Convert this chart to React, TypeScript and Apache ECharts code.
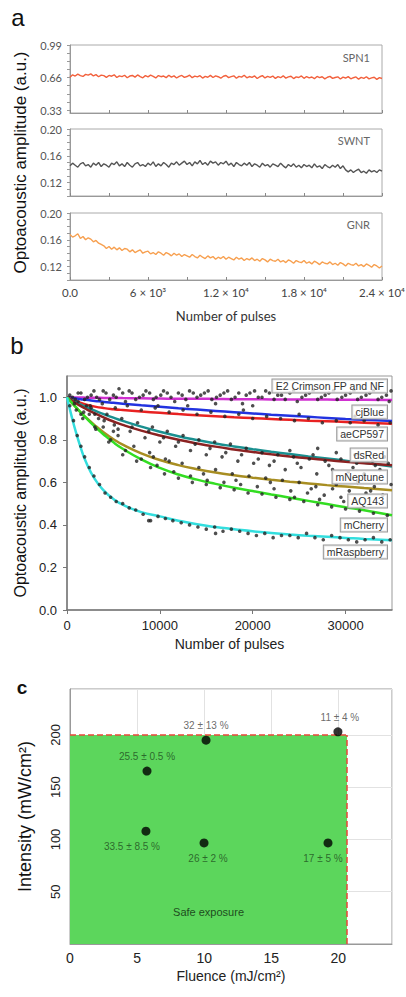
import React, { useEffect, useRef } from "react";
import * as echarts from "echarts";

// ---------- Panel a ----------
const PULSE_STEP = 200;
const SPN1 = [
  0.662, 0.688, 0.675, 0.694, 0.680, 0.671, 0.692, 0.684, 0.697, 0.676,
  0.689, 0.668, 0.684, 0.679, 0.662, 0.681, 0.673, 0.687, 0.660, 0.677,
  0.669, 0.683, 0.658, 0.675, 0.681, 0.664, 0.686, 0.670, 0.657, 0.679,
  0.666, 0.684, 0.672, 0.656, 0.680, 0.668, 0.675, 0.659, 0.683, 0.664,
  0.677, 0.655, 0.672, 0.681, 0.661, 0.670, 0.684, 0.658, 0.674, 0.666,
  0.679, 0.654, 0.671, 0.663, 0.682, 0.660, 0.676, 0.668, 0.653, 0.673,
  0.680, 0.659, 0.669, 0.677, 0.652, 0.672, 0.664, 0.683, 0.657, 0.670,
  0.661, 0.676, 0.650, 0.668, 0.679, 0.656, 0.671, 0.662, 0.675, 0.651,
  0.669, 0.658, 0.677, 0.654, 0.666, 0.673, 0.649, 0.667, 0.660, 0.676,
  0.652, 0.670, 0.657, 0.665, 0.648, 0.671, 0.659, 0.668, 0.646, 0.663,
  0.672, 0.651, 0.660, 0.667, 0.645, 0.664, 0.655, 0.669, 0.647, 0.658,
  0.666, 0.643, 0.661, 0.652, 0.668, 0.646, 0.657, 0.663, 0.641, 0.659, 0.650,
];
const SWNT = [
  0.145, 0.149, 0.146, 0.143, 0.148, 0.150, 0.145, 0.147, 0.143, 0.149,
  0.146, 0.150, 0.144, 0.148, 0.146, 0.143, 0.149, 0.147, 0.151, 0.145,
  0.148, 0.144, 0.150, 0.146, 0.143, 0.148, 0.150, 0.145, 0.147, 0.144,
  0.149, 0.146, 0.151, 0.144, 0.148, 0.145, 0.150, 0.147, 0.143, 0.149,
  0.147, 0.151, 0.146, 0.149, 0.152, 0.147, 0.150, 0.145, 0.151, 0.148,
  0.153, 0.147, 0.150, 0.146, 0.152, 0.149, 0.151, 0.146, 0.150, 0.148,
  0.152, 0.146, 0.149, 0.144, 0.150, 0.147, 0.145, 0.149, 0.146, 0.150,
  0.144, 0.148, 0.146, 0.143, 0.149, 0.145, 0.147, 0.143, 0.148, 0.146,
  0.144, 0.149, 0.145, 0.142, 0.147, 0.144, 0.148, 0.143, 0.146, 0.142,
  0.147, 0.144, 0.146, 0.142, 0.148, 0.143, 0.145, 0.141, 0.147, 0.144,
  0.142, 0.146, 0.143, 0.147, 0.141, 0.145, 0.139, 0.136, 0.139, 0.135,
  0.138, 0.140, 0.135, 0.137, 0.134, 0.139, 0.136, 0.138, 0.135, 0.139, 0.137,
];
const GNR = [
  0.168, 0.164, 0.166, 0.169, 0.162, 0.165, 0.160, 0.163, 0.161, 0.157,
  0.159, 0.155, 0.153, 0.151, 0.147, 0.150, 0.146, 0.149, 0.145, 0.148,
  0.144, 0.147, 0.146, 0.142, 0.145, 0.141, 0.143, 0.145, 0.140, 0.142,
  0.143, 0.139, 0.141, 0.138, 0.142, 0.140, 0.137, 0.141, 0.139, 0.136,
  0.140, 0.137, 0.139, 0.135, 0.138, 0.136, 0.134, 0.138, 0.135, 0.133,
  0.137, 0.134, 0.132, 0.136, 0.133, 0.135, 0.131, 0.134, 0.132, 0.135,
  0.131, 0.134, 0.132, 0.130, 0.134, 0.131, 0.133, 0.129, 0.132, 0.130,
  0.133, 0.129, 0.131, 0.128, 0.132, 0.130, 0.127, 0.131, 0.129, 0.128,
  0.131, 0.127, 0.129, 0.126, 0.130, 0.128, 0.125, 0.129, 0.127, 0.126,
  0.129, 0.125, 0.127, 0.124, 0.128, 0.126, 0.123, 0.127, 0.125, 0.124,
  0.127, 0.123, 0.125, 0.122, 0.126, 0.124, 0.121, 0.125, 0.123, 0.122,
  0.125, 0.121, 0.123, 0.120, 0.124, 0.122, 0.119, 0.123, 0.121, 0.118, 0.121,
];
const A_X_LABEL_VALUES = [0, 6000, 12000, 18000, 24000];
const A_X_LABEL_TEXT = ["0.0", "6 × 10³", "1.2 × 10⁴", "1.8 × 10⁴", "2.4 × 10⁴"];
const SPN1_Y_LABELS = [0.33, 0.66, 0.99];
const SPN1_Y_TICKS = [0.33, 0.4125, 0.495, 0.5775, 0.66, 0.7425, 0.825, 0.9075, 0.99];
const LOW_Y_LABELS = [0.12, 0.16, 0.2];
const A_NAMES = ["SPN1", "SWNT", "GNR"];

// ---------- Panel b ----------
const FIT_X = [0, 500, 1000, 1500, 2000, 3000, 4000, 5000, 6000, 8000, 10000, 12000, 14000, 16000, 18000, 20000, 22000, 24000, 26000, 28000, 30000, 32000, 35000];
const FIT_E2 = [1.0, 1.0, 0.999, 0.999, 0.998, 0.998, 0.997, 0.997, 0.996, 0.995, 0.994, 0.993, 0.993, 0.992, 0.991, 0.991, 0.99, 0.99, 0.989, 0.989, 0.988, 0.988, 0.987];
const FIT_CJBLUE = [1.0, 0.997, 0.994, 0.991, 0.988, 0.983, 0.978, 0.974, 0.97, 0.962, 0.955, 0.948, 0.942, 0.936, 0.93, 0.924, 0.918, 0.913, 0.908, 0.903, 0.898, 0.894, 0.888];
const FIT_AECP = [1.0, 0.99, 0.981, 0.973, 0.966, 0.956, 0.949, 0.944, 0.94, 0.933, 0.927, 0.921, 0.916, 0.911, 0.906, 0.902, 0.898, 0.894, 0.89, 0.887, 0.884, 0.88, 0.876];
const FIT_DSRED = [1.0, 0.988, 0.977, 0.966, 0.956, 0.937, 0.92, 0.904, 0.889, 0.862, 0.838, 0.817, 0.799, 0.783, 0.769, 0.756, 0.744, 0.733, 0.722, 0.712, 0.702, 0.692, 0.675];
const FIT_MNEPTUNE = [1.0, 0.985, 0.971, 0.958, 0.946, 0.924, 0.904, 0.886, 0.87, 0.843, 0.82, 0.8, 0.783, 0.768, 0.755, 0.743, 0.732, 0.722, 0.713, 0.705, 0.697, 0.69, 0.68];
const FIT_AQ143 = [1.0, 0.975, 0.951, 0.928, 0.907, 0.868, 0.833, 0.803, 0.777, 0.736, 0.705, 0.681, 0.662, 0.646, 0.633, 0.622, 0.612, 0.603, 0.595, 0.587, 0.58, 0.573, 0.563];
const FIT_MCHERRY = [1.0, 0.975, 0.951, 0.928, 0.905, 0.862, 0.823, 0.788, 0.758, 0.708, 0.668, 0.637, 0.613, 0.593, 0.575, 0.559, 0.543, 0.528, 0.513, 0.498, 0.483, 0.469, 0.445];
const FIT_MRASP = [1.0, 0.91, 0.83, 0.76, 0.7, 0.615, 0.56, 0.522, 0.495, 0.46, 0.44, 0.42, 0.403, 0.39, 0.38, 0.37, 0.362, 0.355, 0.349, 0.344, 0.339, 0.334, 0.328];
const FIT_NAMES = ["E2 Crimson FP and NF", "cjBlue", "aeCP597", "dsRed", "mNeptune", "AQ143", "mCherry", "mRaspberry"];
const FIT_VALUES = [FIT_E2, FIT_CJBLUE, FIT_AECP, FIT_DSRED, FIT_MNEPTUNE, FIT_AQ143, FIT_MCHERRY, FIT_MRASP];
const FIT_COLORS = ["#d030d0", "#2233e0", "#e82222", "#1a9090", "#8b2222", "#a88e22", "#33dd22", "#33dede"];

const DOTS: number[][] = [
  // around E2 Crimson
  [300, 1.01], [900, 0.99], [1500, 1.02], [2200, 1.0], [2900, 1.03], [3500, 0.99], [4200, 1.02], [5000, 1.01], [5600, 1.04], [6300, 0.98],
  [7000, 1.02], [7800, 1.0], [8500, 1.03], [9300, 0.99], [10100, 1.01], [10800, 1.02], [11600, 0.98], [12400, 1.01], [13200, 1.03], [14000, 1.0],
  [14800, 1.02], [15600, 0.99], [16500, 1.01], [17300, 1.03], [18100, 1.0], [18900, 0.97], [19700, 1.02], [20600, 1.0], [21400, 1.03], [22300, 0.99],
  [23100, 1.01], [24000, 1.02], [24800, 0.98], [25700, 1.01], [26500, 1.03], [27400, 1.0], [28200, 1.02], [29100, 0.99], [30000, 1.01], [30900, 1.03],
  [31700, 1.0], [32600, 1.02], [33500, 0.99], [34400, 1.01], [34900, 1.03], [9800, 0.96], [16000, 0.97], [20000, 0.96],
  [600, 1.0], [1200, 1.02], [1900, 0.99], [2600, 1.01], [3200, 1.0], [3900, 1.03], [4600, 0.99], [5300, 1.0], [6000, 1.02], [6700, 1.03],
  [7400, 0.99], [8200, 1.01], [8900, 1.02], [9600, 1.0], [10400, 1.03], [11200, 1.0], [12000, 1.02], [12800, 0.99], [13600, 1.02], [14400, 1.01],
  [15200, 1.03], [16100, 1.0], [16900, 1.02], [17700, 0.99], [18500, 1.02], [19300, 1.01], [20200, 1.03], [21000, 1.0], [21800, 1.02], [22700, 1.01],
  [23500, 0.99], [24400, 1.03], [25300, 1.0], [26100, 1.02], [27000, 0.99], [27800, 1.01], [28700, 1.03], [29600, 1.0], [30500, 1.02], [31300, 0.99],
  [32200, 1.01], [33000, 1.03], [33900, 1.0], [34700, 0.98],
  // around cjBlue / aeCP597
  [1200, 0.98], [2500, 0.96], [3800, 0.97], [5200, 0.95], [6500, 0.96], [8000, 0.94], [9500, 0.95], [11000, 0.93], [12500, 0.94], [14000, 0.92],
  [15500, 0.93], [17000, 0.91], [18500, 0.92], [20000, 0.9], [21500, 0.91], [23000, 0.9], [24500, 0.89], [26000, 0.9], [27500, 0.88], [29000, 0.89],
  [30500, 0.88], [32000, 0.89], [33500, 0.87], [34800, 0.88], [13000, 0.96], [19000, 0.94], [25000, 0.92], [31000, 0.91],
  // around dsRed / mNeptune
  [800, 0.97], [1800, 0.93], [2600, 0.95], [3400, 0.9], [4300, 0.92], [5100, 0.87], [5900, 0.9], [6800, 0.84], [7600, 0.88], [8400, 0.81],
  [9200, 0.86], [10000, 0.79], [10800, 0.84], [11700, 0.77], [12500, 0.82], [13300, 0.75], [14200, 0.8], [15000, 0.73], [15900, 0.79], [16700, 0.72],
  [17600, 0.78], [18400, 0.7], [19300, 0.76], [20100, 0.69], [21000, 0.74], [21800, 0.68], [22700, 0.73], [23500, 0.66], [24400, 0.72], [25200, 0.67],
  [26100, 0.71], [26900, 0.64], [27800, 0.7], [28600, 0.66], [29500, 0.71], [30300, 0.65], [31200, 0.69], [32000, 0.64], [32900, 0.7], [33700, 0.66],
  [34600, 0.69], [27000, 0.76], [29000, 0.74], [31000, 0.73], [24000, 0.75],
  [2100, 0.96], [3000, 0.92], [4000, 0.89], [5500, 0.85], [7000, 0.86], [8800, 0.84], [10400, 0.81], [12000, 0.79], [13800, 0.78], [15400, 0.76],
  [17100, 0.74], [18800, 0.73], [20600, 0.71], [22300, 0.7], [24800, 0.69], [26500, 0.73], [28200, 0.68], [30800, 0.67], [33200, 0.68], [34200, 0.72],
  // around AQ143
  [1000, 0.94], [1700, 0.9], [2400, 0.92], [3100, 0.85], [3900, 0.86], [4700, 0.8], [5500, 0.82], [6300, 0.75], [7200, 0.77], [8000, 0.71],
  [8900, 0.74], [9700, 0.68], [10600, 0.71], [11500, 0.65], [12400, 0.69], [13300, 0.63], [14200, 0.67], [15100, 0.61], [16000, 0.66], [16900, 0.6],
  [17800, 0.64], [18700, 0.59], [19600, 0.63], [20500, 0.58], [21400, 0.62], [22300, 0.57], [23200, 0.61], [24100, 0.56], [25000, 0.6], [25900, 0.55],
  [26800, 0.58], [27700, 0.54], [28600, 0.57], [29500, 0.53], [30400, 0.56], [31300, 0.6], [32200, 0.55], [33100, 0.58], [34000, 0.54], [34900, 0.59],
  [5000, 0.84], [9300, 0.72], [11000, 0.7], [14700, 0.64], [18200, 0.61], [21900, 0.6], [26300, 0.57], [29000, 0.59], [32700, 0.56],
  [24500, 0.53], [27200, 0.52], [29800, 0.51],
  // around mCherry
  [1500, 0.92], [3000, 0.86], [4500, 0.79], [6000, 0.73], [7500, 0.7], [9000, 0.67], [10500, 0.64], [12000, 0.62], [13500, 0.6], [15000, 0.59],
  [16500, 0.575], [18000, 0.565], [19500, 0.55], [21000, 0.545], [22500, 0.53], [24000, 0.52], [25500, 0.51], [27000, 0.495], [28500, 0.485], [30000, 0.475],
  [31500, 0.465], [33000, 0.455], [34500, 0.445],
  // around mRaspberry
  [300, 0.96], [700, 0.89], [1100, 0.82], [1500, 0.77], [1900, 0.72], [2400, 0.67], [2900, 0.63], [3500, 0.59], [4100, 0.55], [4700, 0.53],
  [5300, 0.51], [6000, 0.5], [6700, 0.48], [7400, 0.47], [8200, 0.45], [9000, 0.42], [9800, 0.44], [10600, 0.43], [11400, 0.42], [12300, 0.41],
  [13200, 0.4], [14100, 0.39], [15000, 0.38], [15900, 0.39], [16800, 0.37], [17700, 0.38], [18600, 0.37], [19500, 0.36], [20400, 0.35], [21300, 0.36],
  [22200, 0.34], [23100, 0.35], [24000, 0.35], [24900, 0.34], [25800, 0.36], [26700, 0.34], [27600, 0.33], [28500, 0.35], [29400, 0.34], [30300, 0.33],
  [31200, 0.32], [32100, 0.33], [33000, 0.34], [33900, 0.32], [34800, 0.33], [8800, 0.42], [16000, 0.36],
];

// ---------- Panel c ----------
const FLUENCE = [5.74, 10.14, 19.97, 5.66, 9.99, 19.23];
const INTENSITY = [165.5, 195, 203, 108, 96.7, 96.7];
const DAMAGE_TEXT = ["25.5 ± 0.5 %", "32 ± 13 %", "11 ± 4 %", "33.5 ± 8.5 %", "26 ± 2 %", "17 ± 5 %"];
const SAFE_FLUENCE = 20.65;
const SAFE_INTENSITY = 200;

const FONT_A = "Lato, 'Open Sans', sans-serif";
const FONT_B = "'Liberation Sans', Arial, sans-serif";

export default function App() {
  const ref = useRef<HTMLDivElement>(null);
  useEffect(() => {
    if (!ref.current) return;
    const chart = echarts.init(ref.current, null, { renderer: "svg" });

    const gridA = (top: number, height: number) => ({
      left: 70, top, width: 312, height, show: true, borderColor: "#aaa", borderWidth: 1,
      backgroundColor: "transparent", containLabel: false, outerBoundsMode: "none",
    });

    const aXAxis = (gi: number, withLabels: boolean) => ({
      type: "value", gridIndex: gi, min: 0, max: 24000, interval: 3000,
      axisLine: { lineStyle: { color: "#999" } },
      axisTick: { show: true, inside: true, length: 3, lineStyle: { color: "#888" } },
      splitLine: { show: false },
      axisLabel: withLabels
        ? {
            show: true, customValues: A_X_LABEL_VALUES, margin: 6, color: "#444", fontSize: 11.5, fontFamily: FONT_A,
            formatter: (v: number) => {
              const i = A_X_LABEL_VALUES.indexOf(v);
              return i >= 0 ? A_X_LABEL_TEXT[i] : "";
            },
          }
        : { show: false },
      name: withLabels ? "Number of pulses" : "",
      nameLocation: "middle", nameGap: 29,
      nameTextStyle: { fontSize: 13, color: "#333", fontFamily: FONT_A },
    });

    const aYLow = (gi: number, withName: boolean) => ({
      type: "value", gridIndex: gi, min: 0.1, max: 0.2, interval: 0.01,
      axisLine: { show: true, lineStyle: { color: "#999" } },
      axisTick: { show: true, length: 3, lineStyle: { color: "#999" } },
      splitLine: { show: false },
      axisLabel: {
        customValues: LOW_Y_LABELS, margin: 8, color: "#555", fontSize: 11, fontFamily: FONT_A,
        formatter: (v: number) => v.toFixed(2),
      },
      name: withName ? "Optoacoustic amplitude (a.u.)" : "",
      nameLocation: "middle", nameGap: 40,
      nameTextStyle: { fontSize: 17, color: "#111", fontFamily: FONT_B },
    });

    const fitSeries = FIT_VALUES.map((vals, k) => ({
      type: "line", name: FIT_NAMES[k], xAxisIndex: 3, yAxisIndex: 3,
      data: vals.map((v, i) => [FIT_X[i], v]),
      smooth: true, showSymbol: false, symbol: "none",
      lineStyle: { color: FIT_COLORS[k], width: 2.5 }, z: 3,
    }));

    const labelY = [386, 412, 434, 455, 477, 501, 525, 552];

    const option: any = {
      animation: false,
      backgroundColor: "#ffffff",
      textStyle: { fontFamily: FONT_B },
      grid: [
        gridA(45, 68),
        gridA(129, 67),
        gridA(213, 67),
        { left: 67, top: 376, width: 325, height: 234, show: true, borderColor: "#999", borderWidth: 1, backgroundColor: "transparent", containLabel: false, outerBoundsMode: "none" },
        { left: 70, top: 689, width: 322, height: 255, show: true, borderColor: "#999", borderWidth: 1, backgroundColor: "transparent", containLabel: false, outerBoundsMode: "none" },
      ],
      xAxis: [
        aXAxis(0, false),
        aXAxis(1, false),
        aXAxis(2, true),
        {
          type: "value", gridIndex: 3, min: 0, max: 35000, interval: 10000,
          axisLine: { lineStyle: { color: "#777", width: 1.5 } },
          axisTick: { show: true, length: 4, lineStyle: { color: "#777" } },
          splitLine: { show: false },
          axisLabel: { margin: 9, color: "#222", fontSize: 13, fontFamily: FONT_B, showMaxLabel: false, formatter: (v: number) => String(v) },
          name: "Number of pulses", nameLocation: "middle", nameGap: 27,
          nameTextStyle: { fontSize: 14, color: "#222", fontFamily: FONT_B },
        },
        {
          type: "value", gridIndex: 4, min: 0, max: 24, interval: 5,
          axisLine: { lineStyle: { color: "#999" } },
          axisTick: { show: false },
          splitLine: { show: true, lineStyle: { color: "#e2e2e2" } },
          axisLabel: { margin: 7, color: "#222", fontSize: 14, fontFamily: FONT_B, showMaxLabel: false },
          name: "Fluence (mJ/cm²)", nameLocation: "middle", nameGap: 25,
          nameTextStyle: { fontSize: 14, color: "#222", fontFamily: FONT_B },
        },
      ],
      yAxis: [
        {
          type: "value", gridIndex: 0, min: 0.3, max: 0.99,
          axisLine: { show: true, lineStyle: { color: "#999" } },
          axisTick: { show: true, length: 3, customValues: SPN1_Y_TICKS, lineStyle: { color: "#999" } },
          splitLine: { show: false },
          axisLabel: {
            customValues: SPN1_Y_LABELS, margin: 8, color: "#555", fontSize: 11, fontFamily: FONT_A,
            formatter: (v: number) => v.toFixed(2),
          },
        },
        aYLow(1, true),
        aYLow(2, false),
        {
          type: "value", gridIndex: 3, min: 0, max: 1.1, interval: 0.2,
          axisLine: { show: true, lineStyle: { color: "#777", width: 1.5 } },
          axisTick: { show: true, length: 4, lineStyle: { color: "#777" } },
          splitLine: { show: false },
          axisLabel: { margin: 10, color: "#222", fontSize: 13, fontFamily: FONT_B, showMaxLabel: false, formatter: (v: number) => v.toFixed(1) },
          name: "Optoacoustic amplitude (a.u.)", nameLocation: "middle", nameGap: 37,
          nameTextStyle: { fontSize: 16, color: "#111", fontFamily: FONT_B },
        },
        {
          type: "value", gridIndex: 4, min: 0, max: 244, interval: 50,
          axisLine: { show: true, lineStyle: { color: "#999" } },
          axisTick: { show: false },
          splitLine: { show: true, lineStyle: { color: "#e2e2e2" } },
          axisLabel: { margin: 8, rotate: 90, color: "#222", fontSize: 13, fontFamily: FONT_B, showMaxLabel: false, showMinLabel: false },
          name: "Intensity (mW/cm²)", nameLocation: "middle", nameGap: 36,
          nameTextStyle: { fontSize: 18, color: "#111", fontFamily: FONT_B },
        },
      ],
      series: [
        {
          type: "line", xAxisIndex: 0, yAxisIndex: 0, showSymbol: false, symbol: "none",
          data: SPN1.map((v, i) => [i * PULSE_STEP, v]), lineStyle: { color: "#f2603c", width: 1.4 },
        },
        {
          type: "line", xAxisIndex: 1, yAxisIndex: 1, showSymbol: false, symbol: "none",
          data: SWNT.map((v, i) => [i * PULSE_STEP, v]), lineStyle: { color: "#555555", width: 1.4 },
        },
        {
          type: "line", xAxisIndex: 2, yAxisIndex: 2, showSymbol: false, symbol: "none",
          data: GNR.map((v, i) => [i * PULSE_STEP, v]), lineStyle: { color: "#f7a050", width: 1.4 },
        },
        ...fitSeries,
        {
          type: "scatter", xAxisIndex: 3, yAxisIndex: 3, data: DOTS, symbolSize: 3.6,
          itemStyle: { color: "#222" }, z: 4,
        },
        {
          type: "line", xAxisIndex: 4, yAxisIndex: 4, data: [[0, 0]], symbol: "none", showSymbol: false,
          lineStyle: { width: 0 }, z: 1,
          markArea: {
            silent: true,
            itemStyle: { color: "#5cd65c", opacity: 1 },
            label: { show: true, position: "insideBottom", distance: 27, color: "#1e4d1e", fontSize: 11, fontFamily: FONT_B },
            data: [[{ name: "Safe exposure", coord: [0, 0] }, { coord: [SAFE_FLUENCE, SAFE_INTENSITY] }]],
          },
          markLine: {
            silent: true, symbol: ["none", "none"], label: { show: false },
            lineStyle: { color: "#e8473a", type: "dashed", width: 1.5 },
            data: [
              [{ coord: [0, SAFE_INTENSITY] }, { coord: [SAFE_FLUENCE, SAFE_INTENSITY] }],
              [{ coord: [SAFE_FLUENCE, 0] }, { coord: [SAFE_FLUENCE, SAFE_INTENSITY] }],
            ],
          },
        },
        {
          type: "scatter", xAxisIndex: 4, yAxisIndex: 4, symbolSize: 9, z: 5,
          itemStyle: { color: "#000" },
          data: FLUENCE.map((f, i) => {
            const above = i < 3;
            const outside = i === 1 || i === 2;
            const offsets = [[0, 0], [0, 0], [2, 0], [-14, 0], [4, 0], [-5, 0]];
            return {
              value: [f, INTENSITY[i]],
              label: {
                show: true, formatter: DAMAGE_TEXT[i], position: above ? "top" : "bottom",
                distance: above ? 5 : 6, offset: offsets[i], fontSize: 10, fontFamily: FONT_B,
                color: outside ? "#444" : "#1e4d1e",
              },
            };
          }),
        },
      ],
      graphic: [
        { type: "text", x: 18, y: 17, z: 100, style: { text: "a", font: "24px 'Liberation Sans', Arial, sans-serif", fill: "#111", textAlign: "center", textVerticalAlign: "middle" } },
        { type: "text", x: 17, y: 345, z: 100, style: { text: "b", font: "24px 'Liberation Sans', Arial, sans-serif", fill: "#111", textAlign: "center", textVerticalAlign: "middle" } },
        { type: "text", x: 22, y: 687, z: 100, style: { text: "c", font: "bold 19px 'Liberation Sans', Arial, sans-serif", fill: "#111", textAlign: "center", textVerticalAlign: "middle" } },
        ...A_NAMES.map((n, i) => ({
          type: "text", x: 370, y: [57, 140, 224][i], z: 100,
          style: { text: n, font: "11px Lato, 'Open Sans', sans-serif", fill: "#666", textAlign: "right", textVerticalAlign: "middle" },
        })),
        ...FIT_NAMES.map((n, i) => ({
          type: "text", x: 387, y: labelY[i], z: 100,
          style: {
            text: n, font: "10.5px 'Liberation Sans', Arial, sans-serif", fill: "#333", textAlign: "right", textVerticalAlign: "middle",
            backgroundColor: "rgba(255,255,255,0.75)", borderColor: "#999", borderWidth: 1, padding: [1, 3, 1, 3],
          },
        })),
      ],
    };
    chart.setOption(option);
    return () => chart.dispose();
  }, []);
  return <div ref={ref} style={{ position: "absolute", left: 0, top: 0, width: 406, height: 997 }} />;
}
